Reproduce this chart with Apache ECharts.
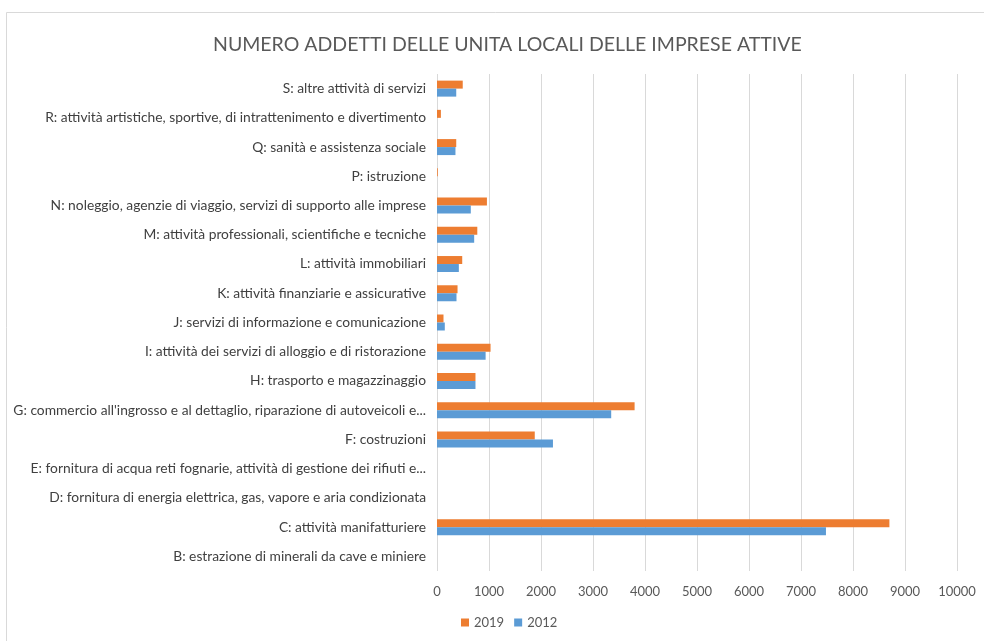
<!DOCTYPE html>
<html>
<head>
<meta charset="utf-8">
<script src="https://cdn.jsdelivr.net/npm/echarts@6/dist/echarts.min.js"></script>
<style>
  html, body { margin: 0; padding: 0; background: #fff; }
  #chart { width: 984px; height: 641px; }
</style>
</head>
<body>
<div id="chart"></div>
<script>
  // categorie dal basso verso l'alto (come nel grafico)
  var categorie = [
    'B: estrazione di minerali da cave e miniere',
    'C: attività manifatturiere',
    'D: fornitura di energia elettrica, gas, vapore e aria condizionata',
    'E: fornitura di acqua reti fognarie, attività di gestione dei rifiuti e...',
    'F: costruzioni',
    "G: commercio all'ingrosso e al dettaglio, riparazione di autoveicoli e...",
    'H: trasporto e magazzinaggio',
    'I: attività dei servizi di alloggio e di ristorazione',
    'J: servizi di informazione e comunicazione',
    'K: attività finanziarie e assicurative',
    'L: attività immobiliari',
    'M: attività professionali, scientifiche e tecniche',
    'N: noleggio, agenzie di viaggio, servizi di supporto alle imprese',
    'P: istruzione',
    'Q: sanità e assistenza sociale',
    'R: attività artistiche, sportive, di intrattenimento e divertimento',
    'S: altre attività di servizi'
  ];
  var valori2019 = [0, 8700, 0, 0, 1880, 3800, 740, 1030, 125, 395, 485, 775, 960, 15, 370, 75, 495];
  var valori2012 = [0, 7480, 0, 0, 2230, 3350, 740, 935, 150, 375, 420, 715, 650, 0, 355, 0, 370];
  var tickX = { min: 0, max: 10000, interval: 1000 };

  var font = 'Lato, "Open Sans", sans-serif';
  var chart = echarts.init(document.getElementById('chart'));
  var option = {
    backgroundColor: '#fff',
    animation: false,
    title: {
      text: 'NUMERO ADDETTI DELLE UNITA LOCALI DELLE IMPRESE ATTIVE',
      left: 208,
      top: 30,
      textStyle: { fontFamily: font, fontSize: 19.5, fontWeight: 'normal', color: '#595959' }
    },
    legend: {
      data: ['2019', '2012'],
      bottom: 7,
      left: 456,
      itemWidth: 8,
      itemHeight: 8,
      itemGap: 10,
      icon: 'rect',
      textStyle: { fontFamily: font, fontSize: 13, color: '#595959' }
    },
    graphic: [{
      type: 'rect',
      shape: { x: 6.5, y: 12.5, width: 990, height: 640 },
      style: { fill: 'none', stroke: '#d9d9d9', lineWidth: 1 },
      silent: true
    }],
    grid: { left: 437, right: 27, top: 74, bottom: 70 },
    xAxis: {
      type: 'value',
      min: tickX.min,
      max: tickX.max,
      interval: tickX.interval,
      axisLine: { show: false },
      axisTick: { show: false },
      splitLine: { lineStyle: { color: '#d9d9d9', width: 1 } },
      axisLabel: {
        fontFamily: font, fontSize: 13, color: '#595959', margin: 14,
        formatter: function (v) { return String(v); }
      }
    },
    yAxis: {
      type: 'category',
      data: categorie,
      axisLine: { show: false },
      axisTick: { show: false },
      axisLabel: { fontFamily: font, fontSize: 13.8, color: '#404040', margin: 11 }
    },
    series: [
      {
        name: '2019',
        type: 'bar',
        data: valori2019,
        barWidth: 8,
        barGap: '0%',
        itemStyle: { color: '#ed7d31' }
      },
      {
        name: '2012',
        type: 'bar',
        data: valori2012,
        barWidth: 8,
        barGap: '0%',
        itemStyle: { color: '#5b9bd5' }
      }
    ]
  };
  chart.setOption(option);
</script>
</body>
</html>
